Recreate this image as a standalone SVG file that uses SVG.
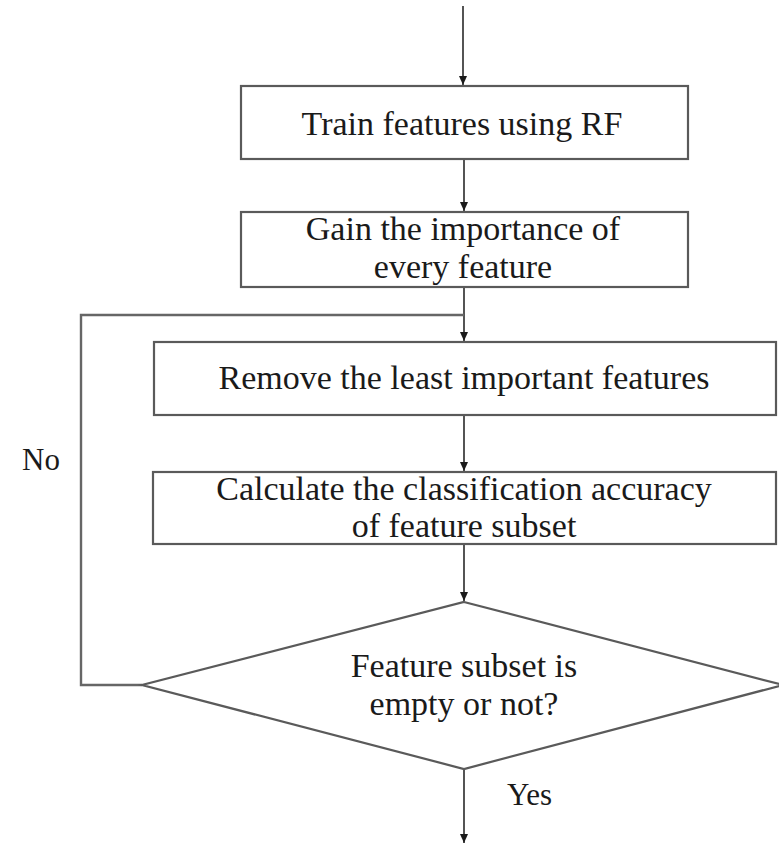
<svg xmlns="http://www.w3.org/2000/svg" width="779" height="845" viewBox="0 0 779 845">
  <style>
    .box { fill: #ffffff; stroke: #5a5a5a; stroke-width: 2.2; }
    .lbl { font-family: "Liberation Serif", "Times New Roman", serif; font-size: 34px; fill: #1a1a1a; text-anchor: middle; }
    .side { font-family: "Liberation Serif", "Times New Roman", serif; font-size: 31px; fill: #1a1a1a; }
    .wire { fill: none; stroke: #2a2a2a; stroke-width: 1.6; }
    .loop { fill: none; stroke: #666666; stroke-width: 2.4; }
  </style>
  <defs>
    <marker id="arrow" markerWidth="10" markerHeight="10" refX="9" refY="5" orient="auto" markerUnits="userSpaceOnUse">
      <path d="M0,1 L9,5 L0,9 Z" fill="#1a1a1a"/>
    </marker>
  </defs>

  <rect width="779" height="845" fill="#ffffff"/>

  <g id="connectors">
    <line class="wire" x1="463" y1="6" x2="463" y2="85" marker-end="url(#arrow)"/>
    <line class="wire" x1="464" y1="159" x2="464" y2="211" marker-end="url(#arrow)"/>
    <line class="wire" x1="464" y1="287" x2="464" y2="341" marker-end="url(#arrow)"/>
    <line class="wire" x1="464" y1="415" x2="464" y2="471" marker-end="url(#arrow)"/>
    <line class="wire" x1="464" y1="544" x2="464" y2="601" marker-end="url(#arrow)"/>
    <line class="wire" x1="464" y1="769" x2="464" y2="843" marker-end="url(#arrow)"/>
    <polyline class="loop" points="142,685 81,685 81,315 464,315"/>
  </g>

  <g id="train">
    <rect class="box" x="241" y="86" width="447" height="73"/>
    <text class="lbl" x="462" y="135">Train features using RF</text>
  </g>

  <g id="importance">
    <rect class="box" x="241" y="212" width="447" height="75"/>
    <text class="lbl" x="463" y="240">Gain the importance of</text>
    <text class="lbl" x="463" y="278">every feature</text>
  </g>

  <g id="remove">
    <rect class="box" x="154" y="342" width="622" height="73"/>
    <text class="lbl" x="464" y="389">Remove the least important features</text>
  </g>

  <g id="accuracy">
    <rect class="box" x="153" y="472" width="623" height="72"/>
    <text class="lbl" x="464" y="500">Calculate the classification accuracy</text>
    <text class="lbl" x="464" y="537">of feature subset</text>
  </g>

  <g id="decision">
    <polygon class="box" stroke-width="1.6" points="464,602 783,685 464,769 142,685"/>
    <text class="lbl" x="464" y="677">Feature subset is</text>
    <text class="lbl" x="464" y="715">empty or not?</text>
  </g>

  <g id="labels">
    <text class="side" x="22" y="470">No</text>
    <text class="side" x="507" y="805">Yes</text>
  </g>
</svg>
